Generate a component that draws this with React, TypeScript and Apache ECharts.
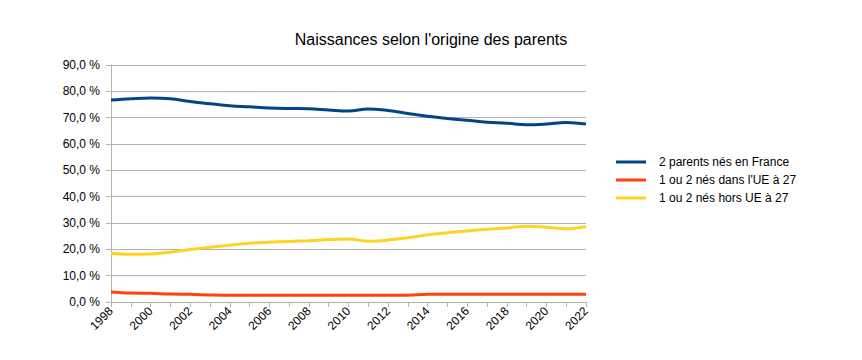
import React, { useEffect, useRef } from "react";
import * as echarts from "echarts";

const years = [
  "1998", "1999", "2000", "2001", "2002", "2003", "2004", "2005", "2006", "2007", "2008", "2009",
  "2010", "2011", "2012", "2013", "2014", "2015", "2016", "2017", "2018", "2019", "2020", "2021", "2022",
];
const franceBoth = [
  76.7, 77.2, 77.5, 77.2, 76.1, 75.3, 74.5, 74.1, 73.7, 73.5, 73.4, 72.9,
  72.5, 73.3, 72.7, 71.6, 70.5, 69.7, 69.0, 68.3, 67.9, 67.3, 67.6, 68.2, 67.6,
];
const ue27 = [
  3.8, 3.4, 3.3, 3.0, 2.9, 2.7, 2.6, 2.6, 2.6, 2.6, 2.6, 2.6,
  2.6, 2.6, 2.6, 2.6, 2.9, 2.9, 2.9, 2.9, 2.9, 2.9, 2.9, 2.9, 2.9,
];
const horsUe27 = [
  18.5, 18.1, 18.2, 18.9, 19.9, 20.8, 21.6, 22.3, 22.7, 23.0, 23.3, 23.7,
  23.9, 23.1, 23.5, 24.4, 25.5, 26.3, 27.0, 27.6, 28.1, 28.8, 28.4, 27.8, 28.7,
];
const seriesNames = ["2 parents nés en France", "1 ou 2 nés dans l'UE à 27", "1 ou 2 nés hors UE à 27"];
const colors = ["#004586", "#ff420e", "#ffd320"];

const FONT = "'Liberation Sans', Arial, sans-serif";

export default function App() {
  const ref = useRef<HTMLDivElement>(null);
  useEffect(() => {
    if (!ref.current) return;
    const chart = echarts.init(ref.current, undefined, { renderer: "svg" });
    const values = [franceBoth, ue27, horsUe27];
    chart.setOption({
      animation: false,
      backgroundColor: "#ffffff",
      title: {
        text: "Naissances selon l'origine des parents",
        left: "center",
        top: 18,
        textStyle: { fontFamily: FONT, fontSize: 16, fontWeight: "normal", color: "#000" },
      },
      legend: {
        orient: "vertical",
        left: 603,
        top: 143,
        itemWidth: 30,
        itemHeight: 3,
        itemGap: 6,
        icon: "rect",
        data: seriesNames,
        textStyle: { fontFamily: FONT, fontSize: 12, color: "#000", padding: [0, 0, 0, 8] },
      },
      grid: { left: 103, right: 268, top: 57, bottom: 50, containLabel: false },
      xAxis: {
        type: "category",
        data: years,
        boundaryGap: false,
        axisLine: { lineStyle: { color: "#b3b3b3" } },
        axisTick: { show: true, interval: 0, length: 5, lineStyle: { color: "#b3b3b3" } },
        axisLabel: {
          interval: 1,
          rotate: 45,
          fontFamily: FONT,
          fontSize: 12,
          color: "#000",
          margin: 7,
        },
        splitLine: { show: false },
      },
      yAxis: {
        type: "value",
        min: 0,
        max: 90,
        interval: 10,
        axisLine: { show: true, lineStyle: { color: "#b3b3b3" } },
        axisTick: { show: true, length: 5, lineStyle: { color: "#b3b3b3" } },
        axisLabel: {
          fontFamily: FONT,
          fontSize: 12,
          color: "#000",
          margin: 11,
          formatter: (v: number) => v.toFixed(1).replace(".", ",") + " %",
        },
        splitLine: { lineStyle: { color: "#b3b3b3" } },
      },
      series: seriesNames.map((name, i) => ({
        name,
        type: "line",
        data: values[i],
        smooth: 0.4,
        showSymbol: false,
        symbol: "none",
        color: colors[i],
        lineStyle: { width: 3, color: colors[i] },
      })),
    });
    return () => chart.dispose();
  }, []);
  return <div ref={ref} style={{ width: 846, height: 344 }} />;
}
